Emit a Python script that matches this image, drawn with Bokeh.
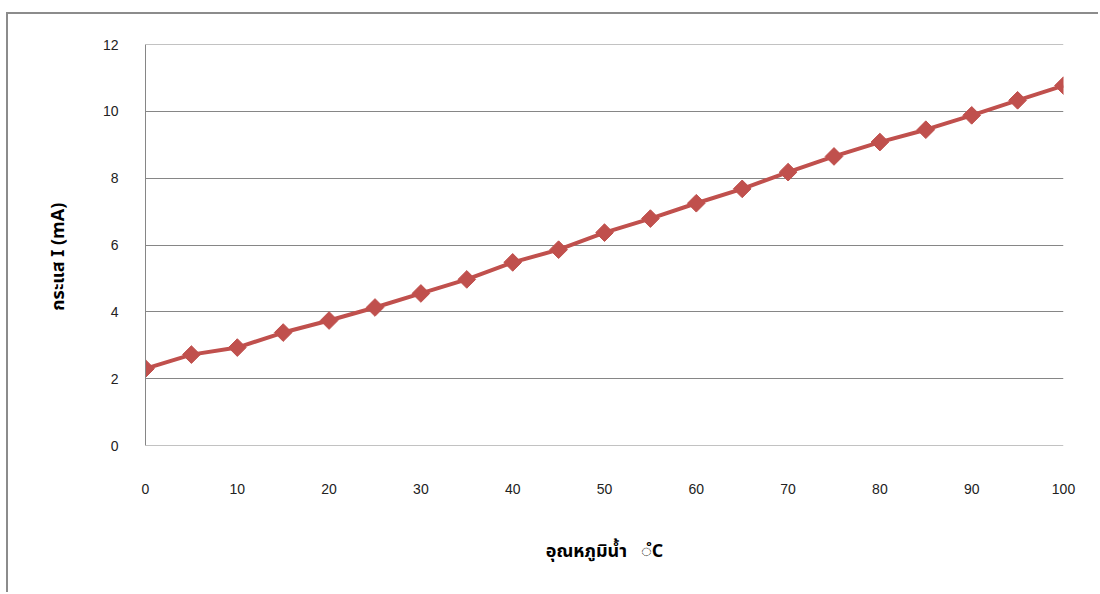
import math

from bokeh.plotting import figure
from bokeh.models import ColumnDataSource, FixedTicker, Range1d, Span
from bokeh.embed import file_html
from bokeh.resources import INLINE

# Water temperature (°C) and measured current (mA)
temperature = [0, 5, 10, 15, 20, 25, 30, 35, 40, 45, 50,
               55, 60, 65, 70, 75, 80, 85, 90, 95, 100]
current_ma = [2.30, 2.72, 2.93, 3.38, 3.74, 4.13, 4.55, 4.97, 5.48, 5.86, 6.37,
              6.79, 7.25, 7.68, 8.18, 8.65, 9.08, 9.45, 9.88, 10.33, 10.77]

x_ticks = [0, 10, 20, 30, 40, 50, 60, 70, 80, 90, 100]
y_ticks = [0, 2, 4, 6, 8, 10, 12]

NBSP = "\u00a0"
x_title = "อุณหภูมิน้ำ" + NBSP * 3 + "\u25cc\u0e4dC"
y_title = "กระแส I (mA)" + NBSP * 5

src = ColumnDataSource(data=dict(t=temperature, i=current_ma))

SERIES = "#C0504D"
GRID = "#868686"
TICK_FONT = "Liberation Sans, Arial, sans-serif"
TITLE_FONT = "Tahoma, 'Noto Sans Thai', 'Noto Sans', sans-serif"

p = figure(
    width=1092, height=580,
    output_backend="svg", toolbar_location=None,
    x_range=Range1d(0, 100), y_range=Range1d(0, 12),
    min_border_left=137, min_border_right=37,
    min_border_top=30, min_border_bottom=149,
)
p.margin = (12, 0, 0, 6)
p.styles = {"border-left": "2px solid #8c8c8c", "border-top": "2px solid #8c8c8c"}
p.outline_line_color = None
p.background_fill_color = "white"
p.border_fill_color = "white"

# gridlines at the range limits (the grid skips the frame edges)
for lvl in (y_ticks[0], y_ticks[-1]):
    p.add_layout(Span(location=lvl, dimension="width",
                      line_color=GRID, line_width=1))

p.line("t", "i", source=src, line_color=SERIES, line_width=4)
p.scatter("t", "i", source=src, marker="square", angle=math.pi / 4,
          size=12.5, fill_color=SERIES, line_color=SERIES)

# x axis: labels only, well below the frame
xa = p.xaxis[0]
xa.ticker = FixedTicker(ticks=x_ticks)
xa.axis_line_color = None
xa.major_tick_line_color = None
xa.minor_tick_line_color = None
xa.major_label_standoff = 32
xa.major_label_text_font = TICK_FONT
xa.major_label_text_font_size = "14px"
xa.major_label_text_color = "#222222"
xa.axis_label = x_title
xa.axis_label_standoff = 41
xa.axis_label_text_font = TITLE_FONT
xa.axis_label_text_font_size = "18px"
xa.axis_label_text_font_style = "bold"
xa.axis_label_text_color = "#000000"

# y axis: grey spine, no ticks
ya = p.yaxis[0]
ya.ticker = FixedTicker(ticks=y_ticks)
ya.axis_line_color = GRID
ya.axis_line_width = 1
ya.major_tick_line_color = None
ya.minor_tick_line_color = None
ya.major_label_standoff = 21
ya.major_label_text_font = TICK_FONT
ya.major_label_text_font_size = "14px"
ya.major_label_text_color = "#222222"
ya.axis_label = y_title
ya.axis_label_standoff = 28
ya.axis_label_text_font = TITLE_FONT
ya.axis_label_text_font_size = "18px"
ya.axis_label_text_font_style = "bold"
ya.axis_label_text_color = "#000000"

p.xgrid.visible = False
p.ygrid.ticker = FixedTicker(ticks=y_ticks)
p.ygrid.grid_line_color = GRID
p.ygrid.grid_line_width = 1

open("out.html", "w").write(file_html(p, INLINE))
